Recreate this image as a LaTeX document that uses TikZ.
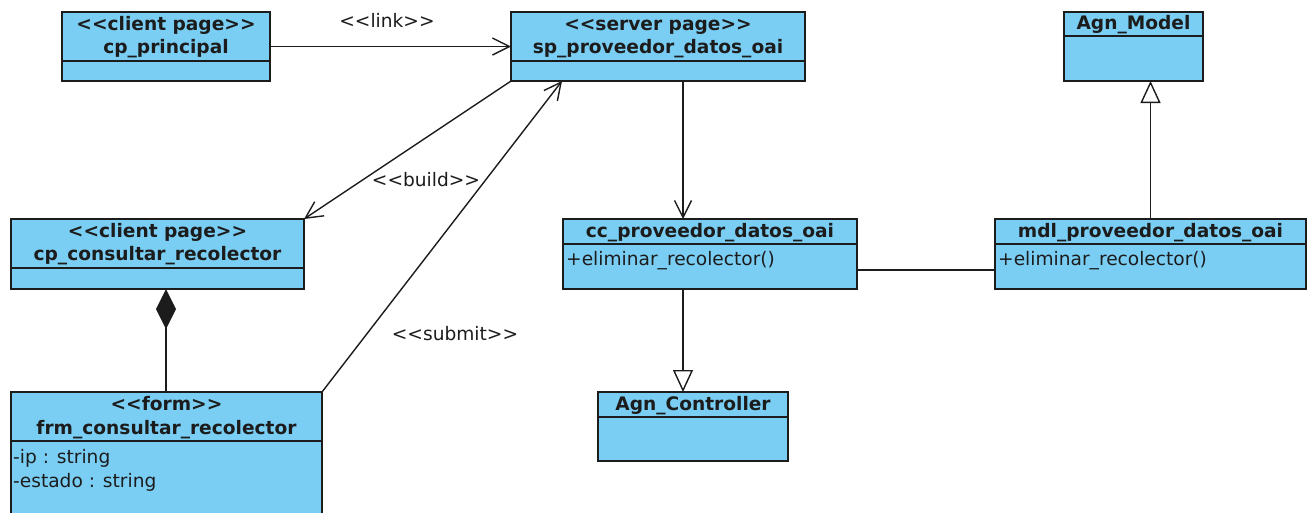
\documentclass[tikz,border=0pt]{standalone}
\usepackage{fontspec}
% plain family without TeX ligatures, so that << and >> stay as typed
\newfontfamily\dv{DejaVu Sans}
\usetikzlibrary{arrows.meta}
\definecolor{classfill}{RGB}{122,206,244}
\definecolor{ink}{RGB}{28,28,28}

\begin{document}
\begin{tikzpicture}[x=1pt,y=-1pt,
  cls/.style={draw=ink, line width=1.6pt, fill=classfill, rectangle, anchor=north west,
              inner sep=0pt, outer sep=0pt},
  hd/.style={anchor=base, text=ink, font=\dv\fontsize{18.6}{22}\selectfont\bfseries, inner sep=0pt},
  mb/.style={anchor=base west, text=ink, font=\dv\fontsize{18.6}{22}\selectfont, inner sep=0pt},
  lbl/.style={anchor=base, text=ink, font=\dv\fontsize{18.6}{22}\selectfont, inner sep=0pt},
  sep/.style={draw=ink, line width=1.6pt},
  conn/.style={draw=ink, line width=1.4pt},
  dep/.style={conn, -{Straight Barb[length=17pt,width=17pt,line width=1.4pt]}},
  gen/.style={conn, -{Triangle[open,length=22pt,width=20pt,line width=1.4pt,fill=white]}},
  comp/.style={conn, {Diamond[length=40pt,width=20pt,fill=ink]}-}
]
\useasboundingbox (0,0) rectangle (1314,512);
\clip (0,0) rectangle (1314,512);
\fill[white] (0,0) rectangle (1314,512);

% ---- classes ----
\node[cls, minimum width=208pt, minimum height=69pt] (cpp) at (62,12) {};
\draw[sep] (62,61) -- (270,61);
\node[hd] at (166,30) {<<client page>>};
\node[hd] at (166,53) {cp\_principal};

\node[cls, minimum width=294pt, minimum height=69pt] (sp) at (511,12) {};
\draw[sep] (511,61) -- (805,61);
\node[hd] at (658,30) {<<server page>>};
\node[hd] at (658,53) {sp\_proveedor\_datos\_oai};

\node[cls, minimum width=139pt, minimum height=69pt] (am) at (1064,12) {};
\draw[sep] (1064,36) -- (1203,36);
\node[hd] at (1133.5,29) {Agn\_Model};

\node[cls, minimum width=293pt, minimum height=70pt] (cpc) at (11,219) {};
\draw[sep] (11,268) -- (304,268);
\node[hd] at (157.5,237) {<<client page>>};
\node[hd] at (157.5,260) {cp\_consultar\_recolector};

\node[cls, minimum width=311pt, minimum height=140pt] (frm) at (11,392) {};
\draw[sep] (11,441) -- (322,441);
\node[hd] at (166.5,410) {<<form>>};
\node[hd] at (166.5,434) {frm\_consultar\_recolector};
\node[mb] at (13,463) {-ip : string};
\node[mb] at (13,487) {-estado : string};

\node[cls, minimum width=294pt, minimum height=70pt] (cc) at (563,219) {};
\draw[sep] (563,244) -- (857,244);
\node[hd] at (710,237) {cc\_proveedor\_datos\_oai};
\node[mb] at (566,265) {+eliminar\_recolector()};

\node[cls, minimum width=311pt, minimum height=70pt] (mdl) at (995,219) {};
\draw[sep] (995,244) -- (1306,244);
\node[hd] at (1150.5,237) {mdl\_proveedor\_datos\_oai};
\node[mb] at (998,265) {+eliminar\_recolector()};

\node[cls, minimum width=190pt, minimum height=69pt] (ctrl) at (598,392) {};
\draw[sep] (598,417) -- (788,417);
\node[hd] at (693,410) {Agn\_Controller};

% ---- connector end points ----
\path (sp.south west) ++(172,0) coordinate (spB);
\path (sp.south west) ++(51,0) coordinate (spS);
\path (cc.south west) ++(120,0) coordinate (ccB);
\path (cc.north east) ++(0,51) coordinate (ccR);
\path (cpc.south west) ++(155,0) coordinate (cpcB);

% ---- connectors ----
\draw[dep] (cpp.east) -- (sp.west);
\node[lbl] at (387,27) {<<link>>};

\draw[dep] (sp.south west) -- (cpc.north east);
\node[lbl] at (426,186) {<<build>>};

\draw[dep] (frm.north east) -- (spS);
\node[lbl] at (455,340) {<<submit>>};

\draw[dep] (spB) -- (spB |- cc.north);
\draw[gen] (ccB) -- (ccB |- ctrl.north);
\draw[gen] (mdl.north) -- (mdl.north |- am.south);
\draw[conn] (ccR) -- (ccR -| mdl.west);
\draw[comp] (cpcB) -- (cpcB |- frm.north);
\end{tikzpicture}
\end{document}
